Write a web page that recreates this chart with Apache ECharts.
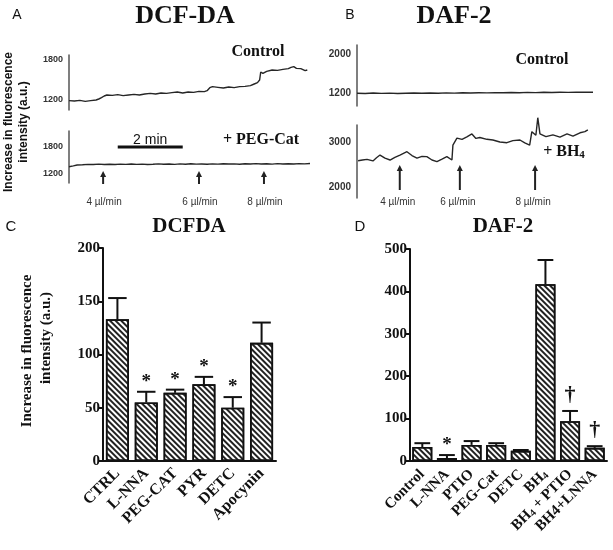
<!DOCTYPE html>
<html><head><meta charset="utf-8">
<script src="https://cdn.jsdelivr.net/npm/echarts@6/dist/echarts.min.js"></script>
<style>html,body{margin:0;padding:0;background:#fff}#c{width:613px;height:550px}</style>
</head><body><div id="c"></div>
<script>
// ---------- Panel A (DCF-DA traces) ----------
const aCtrlTime  = [0,10,20,30,40,50,55,60,65,70,80,90,100,110,120,130,140,150,160,170,180,190,200,210,220,230,240,250,255,260,265,275,285,295,305,315,325,335,342,348,352,354,358,365,375,385,395,405,410,415,420,428,436,440];
const aCtrlValue = [1190,1185,1195,1180,1190,1200,1215,1235,1260,1275,1270,1280,1265,1275,1285,1275,1290,1300,1290,1305,1300,1310,1320,1305,1320,1315,1330,1325,1340,1385,1400,1390,1380,1395,1385,1400,1405,1415,1440,1460,1500,1620,1600,1630,1650,1645,1660,1670,1690,1700,1675,1670,1640,1650];
const aPegTime  = [0,8,15,25,35,45,55,65,75,85,95,105,115,125,135,145,155,165,175,185,195,205,215,225,235,245,255,265,275,285,295,305,315,325,335,345,355,365,375,385,395,405,415,425,435,445];
const aPegValue = [1360,1380,1400,1405,1415,1410,1420,1412,1418,1410,1420,1415,1422,1414,1420,1412,1418,1425,1416,1422,1415,1425,1418,1428,1420,1424,1418,1426,1420,1428,1422,1425,1418,1428,1422,1430,1424,1428,1420,1430,1424,1428,1422,1430,1425,1435];
const aTickLabels = [1200, 1800];
const aArrowTimes = [63, 240, 360];
const aArrowLabels = ['4 µl/min', '6 µl/min', '8 µl/min'];
const aScaleBar = [90, 210];   // 2 min

// ---------- Panel B (DAF-2 traces) ----------
const bCtrlTime  = [0,15,30,45,60,75,90,105,120,135,150,165,180,195,210,225,240,255,270,285,300,315,330,345,360,375,390,405,420,436];
const bCtrlValue = [1195,1190,1200,1192,1198,1190,1196,1200,1194,1200,1196,1202,1198,1204,1200,1206,1202,1208,1204,1210,1206,1212,1208,1214,1210,1216,1212,1218,1214,1216];
const bBh4Time  = [2,10,18.5,29.5,36,42.5,51.7,61,70,79.4,92.3,101.5,110.8,120,129,138.5,147.7,157,166,175.4,177.2,184.6,194,203,212.3,219.7,227,240,251,264,277,288,301,310,319,323,330.5,334,338,349,362,375,388,399,412,421,426.5];
const bBh4Value = [2585,2600,2615,2580,2650,2710,2640,2600,2660,2710,2785,2700,2640,2680,2675,2600,2565,2620,2675,2600,2930,3085,3060,3115,3180,3080,3100,3060,3045,3000,2985,3030,3045,2980,2930,3230,3150,3540,3180,3120,3160,3110,3180,3130,3205,3230,3270];
const bTopTickLabels = [1200, 2000];
const bBottomTickLabels = [2000, 3000];
const bArrowTimes = [79, 190, 329];
const bArrowLabels = ['4 µl/min', '6 µl/min', '8 µl/min'];

// ---------- Panel C (DCFDA bars) ----------
const cCategories = ['CTRL', 'L-NNA', 'PEG-CAT', 'PYR', 'DETC', 'Apocynin'];
const cMeans  = [133, 55, 64, 72, 50, 111];
const cErrTop = [153, 65, 67, 79, 60, 130];
const cMarks  = ['', '*', '*', '*', '*', ''];

// ---------- Panel D (DAF-2 bars) ----------
const dCategories = ['Control', 'L-NNA', 'PTIO', 'PEG-Cat', 'DETC', 'BH4', 'BH4 + PTIO', 'BH4+LNNA'];
const dSubscriptIdx = [5, 6];
const dMeans  = [33, 7, 38, 38, 24, 417, 94, 31];
const dErrTop = [42, 14, 47, 42, 26, 474, 118, 35];
const dMarks  = ['', '*', '', '', '', '', '†', '†'];

const SERIF = '"Liberation Serif", "Times New Roman", serif';
const SANS = '"Liberation Sans", Arial, sans-serif';
const zip = (a, b) => a.map((v, i) => [v, b[i]]);

const chart = echarts.init(document.getElementById('c'), null, {renderer: 'canvas'});

function traceY(gi, min, max, labels, fs) {
  return {gridIndex: gi, type: 'value', min, max,
    axisLine: {show: true, lineStyle: {color: '#555', width: 1.5}},
    axisTick: {show: false}, splitLine: {show: false},
    axisLabel: {customValues: labels, formatter: v => String(v), fontFamily: SANS, fontWeight: 'bold', fontSize: fs, color: '#333', margin: 6}};
}
function traceX(gi, max) {
  return {gridIndex: gi, type: 'value', min: 0, max, show: false};
}
function traceSeries(i, t, v) {
  return {type: 'line', xAxisIndex: i, yAxisIndex: i, data: zip(t, v), showSymbol: false, clip: false,
    lineStyle: {color: '#262626', width: 1.4}, silent: true, animation: false};
}
const decal = {symbol: 'rect', symbolSize: 1, dashArrayX: [1, 0], dashArrayY: [1.3, 1.6], rotation: Math.PI / 4, color: '#222'};

function errRender(marks) {
  return function (params, api) {
    const i = api.value(0);
    const base = api.coord([i, api.value(1)]);
    const top = api.coord([i, api.value(2)]);
    const half = api.size([1, 0])[0] * 0.32;
    const ch = [
      {type: 'line', shape: {x1: base[0], y1: base[1], x2: top[0], y2: top[1]}, style: {stroke: '#111', lineWidth: 2}},
      {type: 'line', shape: {x1: top[0] - half, y1: top[1], x2: top[0] + half, y2: top[1]}, style: {stroke: '#111', lineWidth: 2}}
    ];
    const m = marks[params.dataIndex];
    if (m) ch.push({type: 'text', x: top[0], y: top[1] - (m === '*' ? 10 : 16),
      style: {text: m, font: 'bold ' + (m === '*' ? 19 : 22) + 'px ' + SERIF, fill: '#111', align: 'center', verticalAlign: 'middle'}});
    return {type: 'group', children: ch};
  };
}
function barX(gi, cats, fs, margin, formatter, rich) {
  return {gridIndex: gi, type: 'category', data: cats,
    axisLine: {lineStyle: {color: '#111', width: 2}},
    axisTick: {alignWithLabel: true, length: 5, lineStyle: {color: '#111', width: 2}},
    axisLabel: {rotate: 45, interval: 0, fontFamily: SERIF, fontWeight: 'bold', fontSize: fs, color: '#111', margin, formatter, rich}};
}
function barY(gi, max, interval) {
  return {gridIndex: gi, type: 'value', min: 0, max, interval,
    axisLine: {show: true, lineStyle: {color: '#111', width: 2}},
    axisTick: {show: true, length: 5, lineStyle: {color: '#111', width: 2}},
    splitLine: {show: false},
    axisLabel: {fontFamily: SERIF, fontWeight: 'bold', fontSize: 15, color: '#111', margin: 3}};
}

const dRich = {
  n: {fontFamily: SERIF, fontWeight: 'bold', fontSize: 15, color: '#111'},
  s: {fontFamily: SERIF, fontWeight: 'bold', fontSize: 10, color: '#111', verticalAlign: 'bottom', padding: [6, 0, 0, 0]}
};
function dFormatter(v, idx) {
  if (dSubscriptIdx.indexOf(idx) >= 0) return '{n|BH}{s|4}{n|' + v.slice(3) + '}';
  return '{n|' + v + '}';
}

chart.setOption({
  animation: false,
  grid: [
    {left: 69, top: 55, width: 241, height: 55},
    {left: 69, top: 131, width: 241, height: 52},
    {left: 357, top: 45, width: 236, height: 61},
    {left: 357, top: 125, width: 236, height: 73},
    {left: 103, top: 248, width: 173, height: 213},
    {left: 410, top: 249, width: 197, height: 212}
  ],
  xAxis: [traceX(0, 445), traceX(1, 445), traceX(2, 436), traceX(3, 436),
    barX(4, cCategories, 16, 10),
    barX(5, dCategories, 15, 11, dFormatter, dRich)],
  yAxis: [traceY(0, 1050, 1875, aTickLabels, 9), traceY(1, 1000, 2156, aTickLabels, 9),
    traceY(2, 933, 2185, bTopTickLabels, 10), traceY(3, 1756, 3378, bBottomTickLabels, 10),
    barY(4, 200, 50), barY(5, 500, 100)],
  series: [
    traceSeries(0, aCtrlTime, aCtrlValue),
    traceSeries(1, aPegTime, aPegValue),
    traceSeries(2, bCtrlTime, bCtrlValue),
    traceSeries(3, bBh4Time, bBh4Value),
    {type: 'bar', xAxisIndex: 4, yAxisIndex: 4, data: cMeans, barWidth: 23,
      itemStyle: {color: '#fff', borderColor: '#111', borderWidth: 1.6, decal}},
    {type: 'custom', xAxisIndex: 4, yAxisIndex: 4, z: 5, renderItem: errRender(cMarks),
      data: cMeans.map((v, i) => [i, v, cErrTop[i]])},
    {type: 'bar', xAxisIndex: 5, yAxisIndex: 5, data: dMeans, barWidth: 20,
      itemStyle: {color: '#fff', borderColor: '#111', borderWidth: 1.6, decal}},
    {type: 'custom', xAxisIndex: 5, yAxisIndex: 5, z: 5, renderItem: errRender(dMarks),
      data: dMeans.map((v, i) => [i, v, dErrTop[i]])}
  ]
});

// ---------- annotations ----------
function txt(text, x, y, font, opts) {
  return Object.assign({type: 'text', x, y, style: {text, font, fill: '#111', align: 'center', verticalAlign: 'middle'}}, opts || {});
}
function arrow(x, yTip, yEnd) {
  return {type: 'group', children: [
    {type: 'line', shape: {x1: x, y1: yTip + 4, x2: x, y2: yEnd}, style: {stroke: '#222', lineWidth: 2}},
    {type: 'polygon', shape: {points: [[x, yTip], [x - 3, yTip + 6], [x + 3, yTip + 6]]}, style: {fill: '#222'}}
  ]};
}
const g = [];
g.push(txt('A', 17, 15, '14px ' + SANS));
g.push(txt('B', 350, 15, '14px ' + SANS));
g.push(txt('C', 11, 227, '15px ' + SANS));
g.push(txt('D', 360, 227, '15px ' + SANS));
g.push(txt('DCF-DA', 185, 16, 'bold 26px ' + SERIF));
g.push(txt('DAF-2', 454, 16, 'bold 26px ' + SERIF));
g.push(txt('DCFDA', 189, 227, 'bold 21px ' + SERIF));
g.push(txt('DAF-2', 503, 227, 'bold 21px ' + SERIF));
g.push(txt('Control', 258, 52, 'bold 16px ' + SERIF));
g.push(txt('Control', 542, 60, 'bold 16px ' + SERIF));
g.push(txt('+ PEG-Cat', 261, 140, 'bold 16px ' + SERIF));
g.push({type: 'text', x: 564, y: 152, style: {text: '{n|+ BH}{s|4}', align: 'center', verticalAlign: 'middle',
  rich: {n: {font: 'bold 16px ' + SERIF, fill: '#111'}, s: {font: 'bold 11px ' + SERIF, fill: '#111', verticalAlign: 'bottom', padding: [7, 0, 0, 0]}}}});
g.push(txt('Increase in fluorescence', 9, 122, 'bold 12px ' + SANS, {rotation: Math.PI / 2}));
g.push(txt('intensity (a.u.)', 24, 122, 'bold 12px ' + SANS, {rotation: Math.PI / 2}));
g.push(txt('Increase in fluorescence', 27, 351, 'bold 15px ' + SERIF, {rotation: Math.PI / 2}));
g.push(txt('intensity (a.u.)', 46, 338, 'bold 15px ' + SERIF, {rotation: Math.PI / 2}));

// scale bar
const sb0 = chart.convertToPixel({xAxisIndex: 1}, aScaleBar[0]);
const sb1 = chart.convertToPixel({xAxisIndex: 1}, aScaleBar[1]);
const sbY = chart.convertToPixel({yAxisIndex: 1}, 1800);
g.push({type: 'line', shape: {x1: sb0, y1: sbY, x2: sb1, y2: sbY}, style: {stroke: '#111', lineWidth: 3}});
g.push(txt('2 min', (sb0 + sb1) / 2, sbY - 7, '14px ' + SANS));

aArrowTimes.forEach((t, i) => {
  const x = chart.convertToPixel({xAxisIndex: 1}, t);
  g.push(arrow(x, 171, 184));
  g.push({type: 'text', x: x + 1, y: 202, style: {text: aArrowLabels[i], font: '10px ' + SANS, fill: '#333', align: 'center', verticalAlign: 'middle'}});
});
bArrowTimes.forEach((t, i) => {
  const x = chart.convertToPixel({xAxisIndex: 3}, t);
  g.push(arrow(x, 165, 190));
  g.push({type: 'text', x: x - 2, y: 202, style: {text: bArrowLabels[i], font: '10px ' + SANS, fill: '#333', align: 'center', verticalAlign: 'middle'}});
});
chart.setOption({graphic: g});
</script></body></html>
